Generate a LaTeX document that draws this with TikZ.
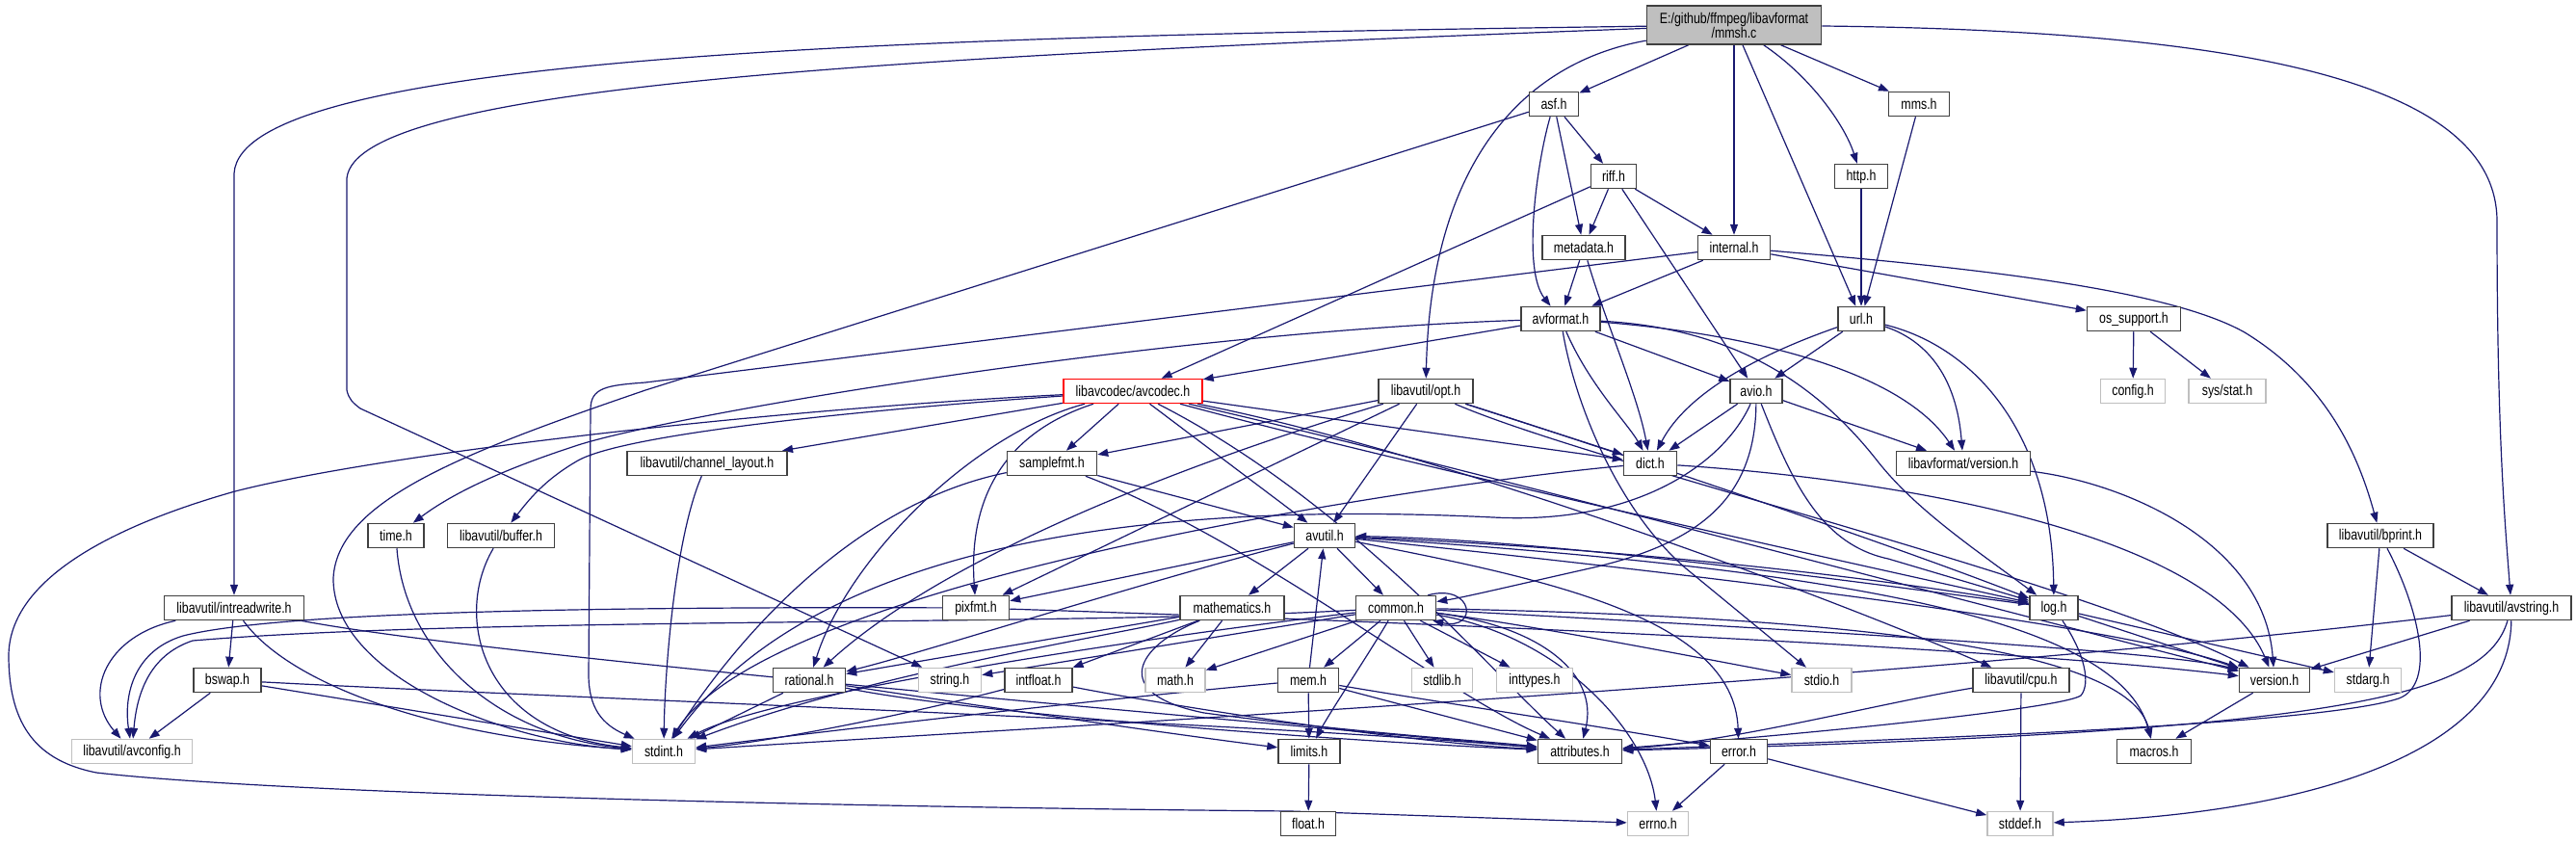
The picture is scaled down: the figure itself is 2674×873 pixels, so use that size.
\documentclass[tikz,border=0pt]{standalone}
\usepackage{fontspec}
\setmainfont{Liberation Sans}[FakeStretch=0.8]
\usetikzlibrary{arrows.meta}
\pgfdeclarelayer{edges}
\pgfsetlayers{edges,main}
\definecolor{navy}{HTML}{191970}
\definecolor{boxc}{HTML}{404040}
\definecolor{grayc}{HTML}{BFBFBF}
\definecolor{fillg}{HTML}{BFBFBF}
\newcommand\lbl{\fontsize{15.5}{15}\selectfont}
\tikzset{
  box/.style={draw=boxc, line width=1.5pt, fill=white, minimum height=25pt, inner sep=0pt, font=\lbl},
  sysbox/.style={box, draw=grayc},
  e/.style={draw=navy, line width=1.2pt, -{Triangle[length=11pt,width=8pt]}},
}
\begin{document}
\begin{tikzpicture}[x=1pt,y=-1pt]
\begin{pgfonlayer}{edges}
\fill[white] (0,0) rectangle (2674,873);
\end{pgfonlayer}
\useasboundingbox (0,0) rectangle (2674,873);
% nodes
\node[box, fill=fillg, minimum width=181pt, minimum height=40pt, align=center] (mmsh) at (1800,26) {E:/github/ffmpeg/libavformat\\/mmsh.c};
\node[box, minimum width=51pt] (asf) at (1613,108) {asf.h};
\node[box, minimum width=47pt] (riff) at (1675,183) {riff.h};
\node[box, minimum width=86pt] (metadata) at (1644,257) {metadata.h};
\node[box, minimum width=75pt] (internal) at (1800,257) {internal.h};
\node[box, minimum width=55pt] (http) at (1932,183) {http.h};
\node[box, minimum width=63pt] (mms) at (1992,108) {mms.h};
\node[box, minimum width=82pt] (avformat) at (1620,331) {avformat.h};
\node[box, minimum width=48pt] (url) at (1932,331) {url.h};
\node[box, minimum width=98pt] (opt) at (1480,406) {libavutil/opt.h};
\node[box, minimum width=54pt] (avio) at (1823,406) {avio.h};
\node[box, minimum width=55pt] (dict) at (1713,481) {dict.h};
\node[box, minimum width=63pt] (avutil) at (1375,556) {avutil.h};
\node[box, minimum width=139pt] (lavfver) at (2038,481) {libavformat/version.h};
\node[box, minimum width=97pt] (ossup) at (2215,331) {os\_support.h};
\node[sysbox, minimum width=67pt] (config) at (2214,406) {config.h};
\node[sysbox, minimum width=80pt] (sysstat) at (2312,406) {sys/stat.h};
\node[box, minimum width=110pt] (bprint) at (2471,556) {libavutil/bprint.h};
\node[box, draw=red, minimum width=144pt] (avcodec) at (1176,406) {libavcodec/avcodec.h};
\node[box, minimum width=166pt] (chlayout) at (734,481) {libavutil/channel\_layout.h};
\node[box, minimum width=93pt] (samplefmt) at (1092,481) {samplefmt.h};
\node[box, minimum width=58pt] (timeh) at (411,556) {time.h};
\node[box, minimum width=111pt] (buffer) at (520,556) {libavutil/buffer.h};
\node[box, minimum width=145pt] (intrw) at (243,631) {libavutil/intreadwrite.h};
\node[box, minimum width=70pt] (bswap) at (236,706) {bswap.h};
\node[sysbox, minimum width=125pt] (avconfig) at (137,780) {libavutil/avconfig.h};
\node[sysbox, minimum width=65pt] (stdint) at (689,780) {stdint.h};
\node[box, minimum width=69pt] (pixfmt) at (1013,631) {pixfmt.h};
\node[box, minimum width=108pt] (mathematics) at (1279,631) {mathematics.h};
\node[box, minimum width=75pt] (rational) at (840,706) {rational.h};
\node[sysbox, minimum width=65pt] (stringh) at (986,706) {string.h};
\node[box, minimum width=70pt] (intfloat) at (1078,706) {intfloat.h};
\node[sysbox, minimum width=62pt] (mathh) at (1220,706) {math.h};
\node[box, minimum width=63pt] (mem) at (1358,706) {mem.h};
\node[box, minimum width=64pt] (limits) at (1359,780) {limits.h};
\node[box, minimum width=57pt] (floath) at (1358,855) {float.h};
\node[box, minimum width=83pt] (common) at (1449,631) {common.h};
\node[sysbox, minimum width=63pt] (stdlib) at (1497,706) {stdlib.h};
\node[sysbox, minimum width=79pt] (inttypes) at (1593,706) {inttypes.h};
\node[sysbox, minimum width=62pt] (stdio) at (1891,706) {stdio.h};
\node[box, minimum width=87pt] (attributes) at (1640,780) {attributes.h};
\node[box, minimum width=59pt] (error) at (1805,780) {error.h};
\node[sysbox, minimum width=63pt] (errno) at (1721,855) {errno.h};
\node[box, minimum width=50pt] (log) at (2132,631) {log.h};
\node[box, minimum width=100pt] (cpu) at (2098,706) {libavutil/cpu.h};
\node[box, minimum width=73pt] (version) at (2361,706) {version.h};
\node[sysbox, minimum width=69pt] (stdarg) at (2458,706) {stdarg.h};
\node[box, minimum width=77pt] (macros) at (2236,780) {macros.h};
\node[box, minimum width=124pt] (avstring) at (2607,631) {libavutil/avstring.h};
\node[sysbox, minimum width=68pt] (stddef) at (2097,855) {stddef.h};
\begin{pgfonlayer}{edges}
% edges: mmsh.c
\draw[e] (mmsh) .. controls (900,38) and (250,60) .. (243,180) -- (intrw);
\draw[e] (mmsh) .. controls (900,60) and (370,90) .. (360,185) -- (360,405) .. controls (362,414) and (366,418) .. (374,424) -- (stringh);
\draw[e] (mmsh) .. controls (1580,65) and (1485,170) .. (opt);
\draw[e] (mmsh) -- (asf);
\draw[e] (mmsh) -- (internal);
\draw[e] (mmsh) -- (url);
\draw[e] (mmsh) .. controls (1880,80) and (1915,130) .. (http);
\draw[e] (mmsh) -- (mms);
\draw[e] (mmsh) .. controls (2350,32) and (2592,90) .. (2592,230) .. controls (2592,450) and (2600,540) .. (avstring);
% asf.h
\draw[e] (asf) -- (riff);
\draw[e] (asf) -- (metadata);
\draw[e] (asf) .. controls (1595,170) and (1580,280) .. (avformat);
\draw[e] (asf) -- (670,405) .. controls (480,470) and (350,520) .. (346,600) .. controls (345,700) and (520,770) .. (stdint);
% riff.h
\draw[e] (riff) -- (metadata);
\draw[e] (riff) -- (internal);
\draw[e] (riff) -- (avio);
\draw[e] (riff) -- (avcodec);
% metadata.h
\draw[e] (metadata) -- (avformat);
\draw[e] (metadata) .. controls (1665,330) and (1700,410) .. (dict);
% internal.h
\draw[e] (internal) -- (avformat);
\draw[e] (internal) -- (ossup);
\draw[e] (internal) .. controls (2050,278) and (2250,300) .. (2330,345) .. controls (2420,400) and (2450,480) .. (bprint);
\draw[e] (internal) -- (670,397) .. controls (630,400) and (613,402) .. (613,425) -- (611,700) .. controls (611,735) and (625,752) .. (stdint);
% http, mms
\draw[e] (http) -- (url);
\draw[e] (mms) -- (url);
% avformat.h
\draw[e] (avformat) -- (avcodec);
\draw[e] (avformat) .. controls (1200,345) and (700,430) .. (600,462) .. controls (520,488) and (470,512) .. (timeh);
\draw[e] (avformat) .. controls (1635,420) and (1680,530) .. (1750,590) -- (stdio);
\draw[e] (avformat) -- (avio);
\draw[e] (avformat) .. controls (1650,400) and (1690,440) .. (dict);
\draw[e] (avformat) .. controls (1790,340) and (1880,390) .. (1950,480) .. controls (1990,530) and (2050,570) .. (log);
\draw[e] (avformat) .. controls (1800,345) and (1970,380) .. (lavfver);
% url.h
\draw[e] (url) -- (avio);
\draw[e] (url) .. controls (1820,370) and (1750,410) .. (dict);
\draw[e] (url) .. controls (1990,350) and (2030,380) .. (lavfver);
\draw[e] (url) .. controls (2050,360) and (2130,450) .. (log);
% avio.h
\draw[e] (avio) -- (dict);
\draw[e] (avio) -- (lavfver);
\draw[e] (avio) .. controls (1860,500) and (1890,565) .. (1960,580) -- (log);
\draw[e] (avio) .. controls (1822,520) and (1760,565) .. (1650,590) .. controls (1570,608) and (1520,620) .. (common);
\draw[e] (avio) .. controls (1790,480) and (1700,545) .. (1550,537) .. controls (1200,520) and (850,560) .. (stdint);
% opt.h
\draw[e] (opt) -- (avutil);
\draw[e] (opt) -- (dict);
\draw[e] (opt) .. controls (1650,460) and (1950,560) .. (log);
\draw[e] (opt) .. controls (1650,480) and (2150,600) .. (version);
\draw[e] (opt) -- (pixfmt);
\draw[e] (opt) .. controls (1300,460) and (1000,560) .. (rational);
\draw[e] (opt) -- (samplefmt);
% avcodec.h
\draw[e] (avcodec) -- (samplefmt);
\draw[e] (avcodec) -- (chlayout);
\draw[e] (avcodec) .. controls (900,425) and (650,450) .. (600,478) .. controls (565,498) and (548,520) .. (buffer);
\draw[e] (avcodec) .. controls (800,425) and (400,470) .. (244,510) .. controls (120,545) and (10,600) .. (9,680) .. controls (9,755) and (40,790) .. (100,802) .. controls (300,825) and (900,838) .. (1340,842) -- (errno);
\draw[e] (avcodec) .. controls (1040,450) and (1005,520) .. (pixfmt);
\draw[e] (avcodec) .. controls (1010,450) and (880,580) .. (rational);
\draw[e] (avcodec) -- (avutil);
\draw[e] (avcodec) -- (dict);
\draw[e] (avcodec) .. controls (1450,480) and (1900,580) .. (log);
\draw[e] (avcodec) .. controls (1500,480) and (2100,640) .. (version);
\draw[e] (avcodec) .. controls (1400,520) and (1550,700) .. (attributes);
\draw[e] (avcodec) .. controls (1500,470) and (1900,620) .. (cpu);
% samplefmt.h
\draw[e] (samplefmt) -- (avutil);
\draw[e] (samplefmt) .. controls (900,520) and (780,640) .. (stdint);
\draw[e] (samplefmt) .. controls (1300,560) and (1500,720) .. (attributes);
% channel_layout, time, buffer
\draw[e] (chlayout) .. controls (700,560) and (690,700) .. (stdint);
\draw[e] (timeh) .. controls (420,680) and (520,765) .. (stdint);
\draw[e] (buffer) .. controls (470,640) and (500,760) .. (stdint);
% intreadwrite.h
\draw[e] (intrw) .. controls (110,660) and (85,720) .. (avconfig);
\draw[e] (intrw) -- (bswap);
\draw[e] (intrw) .. controls (300,710) and (450,765) .. (stdint);
\draw[e] (intrw) .. controls (500,680) and (1200,740) .. (attributes);
% bswap.h
\draw[e] (bswap) -- (avconfig);
\draw[e] (bswap) -- (stdint);
\draw[e] (bswap) .. controls (600,725) and (1300,750) .. (attributes);
% pixfmt.h
\draw[e] (pixfmt) .. controls (700,630) and (300,632) .. (190,660) .. controls (140,675) and (128,720) .. (avconfig);
\draw[e] (pixfmt) .. controls (1600,650) and (2100,675) .. (version);
% avutil.h
\draw[e] (avutil) -- (pixfmt);
\draw[e] (avutil) -- (mathematics);
\draw[e] (avutil) -- (common);
\draw[e] (avutil) .. controls (1200,600) and (950,680) .. (rational);
\draw[e] (avutil) .. controls (1700,570) and (1950,600) .. (log);
\draw[e] (avutil) .. controls (1600,600) and (1800,640) .. (error);
\draw[e] (avutil) .. controls (1800,600) and (2200,650) .. (version);
\draw[e] (avutil) .. controls (1900,590) and (2200,640) .. (macros);
% log.h
\draw[e] (log) .. controls (1900,600) and (1600,560) .. (avutil);
\draw[e] (log) -- (version);
\draw[e] (log) -- (stdarg);
\draw[e] (log) .. controls (2165,680) and (2170,710) .. (2160,722) .. controls (2140,735) and (1900,760) .. (attributes);
% mathematics.h
\draw[e] (mathematics) -- (rational);
\draw[e] (mathematics) -- (intfloat);
\draw[e] (mathematics) -- (mathh);
\draw[e] (mathematics) .. controls (1150,660) and (900,700) .. (stdint);
\draw[e] (mathematics) .. controls (1180,670) and (1150,720) .. (1250,740) .. controls (1400,760) and (1550,770) .. (attributes);
% common.h
\draw[e] (common) -- (mem);
\draw[e] (common) .. controls (1420,680) and (1380,740) .. (limits);
\draw[e] (common) -- (stdlib);
\draw[e] (common) -- (inttypes);
\draw[e] (common) .. controls (1600,650) and (1800,690) .. (stdio);
\draw[e] (common) .. controls (1600,650) and (1660,700) .. (attributes);
\draw[e] (common) .. controls (1620,660) and (1710,760) .. (errno);
\draw[e] (common) .. controls (1800,650) and (2250,675) .. (version);
\draw[e] (common) .. controls (1900,640) and (2210,670) .. (macros);
\draw[e] (common) -- (mathh);
\draw[e] (common) -- (stringh);
\draw[e] (common) .. controls (1200,660) and (800,720) .. (stdint);
\draw[e] (common) .. controls (1100,650) and (500,640) .. (200,665) .. controls (155,680) and (142,720) .. (avconfig);
\draw[e] ([xshift=-9pt]common.north east) .. controls (1530,605) and (1535,655) .. ([xshift=-4pt]common.south east);
% mem.h
\draw[e] (mem) -- (limits);
\draw[e] (mem) -- (attributes);
\draw[e] (mem) .. controls (1500,730) and (1700,760) .. (error);
\draw[e] (mem) -- (avutil);
\draw[e] (mem) .. controls (1100,730) and (850,760) .. (stdint);
% limits, rational, intfloat
\draw[e] (limits) -- (floath);
\draw[e] (rational) -- (stdint);
\draw[e] (rational) .. controls (1000,730) and (1200,760) .. (limits);
\draw[e] (rational) .. controls (1000,740) and (1400,770) .. (attributes);
\draw[e] (intfloat) .. controls (950,740) and (800,770) .. (stdint);
\draw[e] (intfloat) .. controls (1200,730) and (1450,770) .. (attributes);
% error, cpu
\draw[e] (error) -- (errno);
\draw[e] (error) -- (stddef);
\draw[e] (cpu) -- (stddef);
\draw[e] (cpu) .. controls (1950,730) and (1800,770) .. (attributes);
% dict, lavf version, version
\draw[e] (dict) .. controls (1500,500) and (800,600) .. (stdint);
\draw[e] (dict) .. controls (2000,500) and (2300,560) .. (version);
\draw[e] (lavfver) .. controls (2200,500) and (2350,560) .. (version);
\draw[e] (version) -- (macros);
% bprint
\draw[e] (bprint) -- (stdarg);
\draw[e] (bprint) .. controls (2510,630) and (2530,710) .. (2490,725) .. controls (2400,755) and (1900,770) .. (attributes);
\draw[e] (bprint) -- (avstring);
% avstring
\draw[e] (avstring) .. controls (2000,705) and (1000,760) .. (stdint);
\draw[e] (avstring) -- (version);
\draw[e] (avstring) .. controls (2580,720) and (2450,760) .. (attributes);
\draw[e] (avstring) .. controls (2605,780) and (2400,845) .. (stddef);
% os_support
\draw[e] (ossup) -- (config);
\draw[e] (ossup) -- (sysstat);
\end{pgfonlayer}
\end{tikzpicture}
\end{document}
